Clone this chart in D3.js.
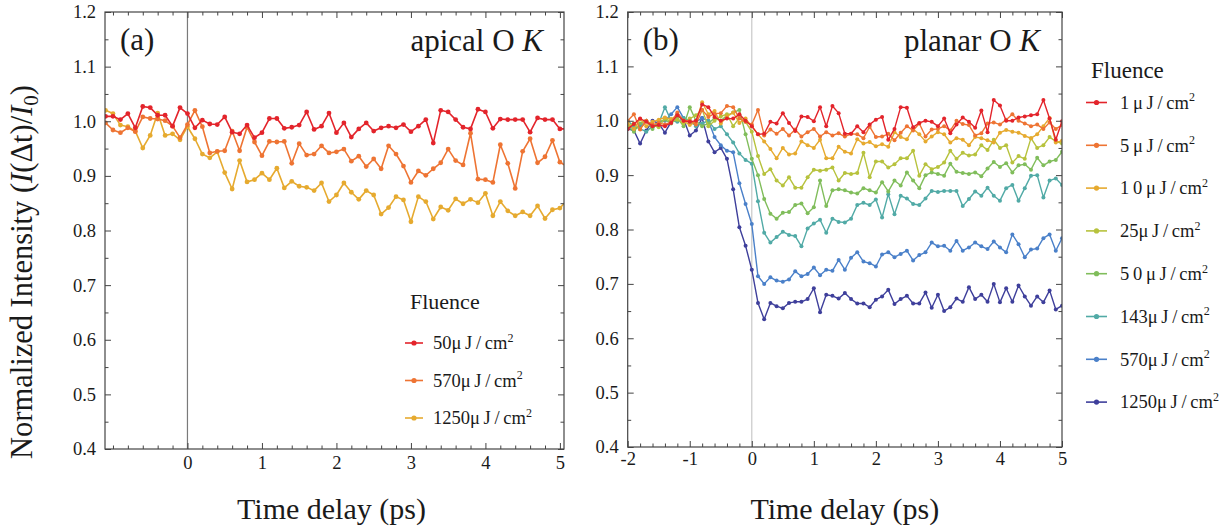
<!DOCTYPE html>
<html>
<head>
<meta charset="utf-8">
<script src="https://cdn.jsdelivr.net/npm/d3@7"></script>
<style>
    body { margin: 0; background: #fff; }
    text { font-family: "Liberation Serif", "Times New Roman", serif; fill: #1a1a1a; }
</style>
</head>
<body>
<svg id="chart" width="1222" height="529"></svg>
<script>
// ---- data ----

// time axis of panel (a), ps (one sample every 0.1 ps)
var timesA = [-1.1, -1.0, -0.9, -0.8, -0.7, -0.6, -0.5, -0.4, -0.3, -0.2, -0.1, 0.0,
    0.1, 0.2, 0.3, 0.4, 0.5, 0.6, 0.7, 0.8, 0.9, 1.0, 1.1, 1.2, 1.3, 1.4, 1.5, 1.6, 1.7, 1.8, 1.9, 2.0,
    2.1, 2.2, 2.3, 2.4, 2.5, 2.6, 2.7, 2.8, 2.9, 3.0, 3.1, 3.2, 3.3, 3.4, 3.5, 3.6, 3.7, 3.8, 3.9, 4.0,
    4.1, 4.2, 4.3, 4.4, 4.5, 4.6, 4.7, 4.8, 4.9, 5.0, 5.1];

// time axis of panel (b), ps
var timesB = [-2.0, -1.9, -1.8, -1.7, -1.6, -1.5, -1.4, -1.3, -1.2, -1.1, -1.0, -0.9, -0.8, -0.7, -0.6,
    -0.5, -0.4, -0.3, -0.2, -0.1, 0.0,
    0.1, 0.2, 0.3, 0.4, 0.5, 0.6, 0.7, 0.8, 0.9, 1.0, 1.1, 1.2, 1.3, 1.4, 1.5, 1.6, 1.7, 1.8, 1.9, 2.0,
    2.1, 2.2, 2.3, 2.4, 2.5, 2.6, 2.7, 2.8, 2.9, 3.0, 3.1, 3.2, 3.3, 3.4, 3.5, 3.6, 3.7, 3.8, 3.9, 4.0,
    4.1, 4.2, 4.3, 4.4, 4.5, 4.6, 4.7, 4.8, 4.9, 5.0];

// panel (a): apical O K
var apical50 = [1.009, 1.009, 1.003, 1.014, 0.988, 1.027, 1.025, 1.011, 1.011, 0.991, 1.025, 1.014,
    0.988, 1.002, 0.995, 0.994, 1.008, 0.980, 0.977, 0.993, 0.970, 0.979, 1.005, 1.005, 0.987, 0.989,
    0.993, 1.017, 0.985, 0.991, 1.015, 0.979, 0.997, 0.971, 0.986, 0.997, 0.982, 0.988, 0.991, 0.988,
    0.994, 0.981, 0.991, 1.003, 0.960, 1.020, 1.017, 1.003, 0.989, 0.986, 1.022, 1.017, 0.987, 1.004,
    1.003, 1.003, 1.003, 0.980, 1.006, 1.003, 1.003, 0.986, 0.986];
var apical570 = [0.997, 0.984, 0.979, 0.988, 0.981, 1.008, 1.005, 1.004, 1.001, 0.991, 0.970, 0.994,
    1.020, 0.990, 0.942, 0.945, 0.946, 0.982, 0.946, 0.989, 0.962, 0.937, 0.963, 0.962, 0.963, 0.923,
    0.959, 0.938, 0.940, 0.955, 0.942, 0.944, 0.949, 0.927, 0.936, 0.917, 0.931, 0.913, 0.955, 0.940,
    0.918, 0.888, 0.909, 0.901, 0.913, 0.924, 0.949, 0.928, 0.920, 0.978, 0.894, 0.893, 0.888, 0.957,
    0.923, 0.877, 0.945, 0.968, 0.924, 0.935, 0.965, 0.925, 0.917];
var apical1250 = [1.020, 1.014, 0.993, 0.990, 0.982, 0.951, 0.974, 1.015, 0.974, 0.977, 0.966, 0.990,
    0.968, 0.940, 0.933, 0.944, 0.906, 0.876, 0.928, 0.889, 0.893, 0.905, 0.893, 0.914, 0.878, 0.890,
    0.881, 0.879, 0.873, 0.887, 0.853, 0.865, 0.887, 0.870, 0.857, 0.873, 0.865, 0.830, 0.842, 0.862,
    0.856, 0.816, 0.862, 0.853, 0.821, 0.843, 0.837, 0.858, 0.849, 0.857, 0.851, 0.868, 0.827, 0.853,
    0.836, 0.827, 0.834, 0.827, 0.845, 0.822, 0.838, 0.841, 0.856];

// panel (b): planar O K
var planar1 = [0.985, 0.994, 1.004, 0.998, 0.990, 0.992, 0.990, 0.996, 1.010, 1.000, 0.998, 1.000,
    1.030, 1.025, 1.007, 1.000, 1.004, 1.004, 1.012, 1.000, 0.990, 0.975, 0.976, 0.998, 0.995, 1.014,
    0.996, 0.981, 1.008, 1.007, 0.999, 1.025, 0.990, 1.027, 1.014, 0.976, 0.976, 0.990, 0.979, 0.993,
    1.002, 1.007, 0.965, 0.985, 1.025, 1.024, 0.988, 0.996, 1.000, 0.998, 0.990, 1.004, 0.977, 0.993,
    1.006, 0.998, 0.987, 1.019, 0.979, 1.038, 1.028, 1.000, 1.000, 1.006, 1.008, 1.010, 1.012, 1.038,
    1.004, 0.965, 0.999];
var planar5 = [1.000, 1.012, 0.984, 1.000, 0.993, 0.996, 0.993, 0.998, 1.015, 1.000, 1.000, 0.993,
    1.020, 1.007, 1.013, 1.014, 1.027, 1.025, 1.004, 0.998, 0.993, 1.020, 0.973, 0.984, 0.976, 0.985,
    0.973, 0.984, 0.971, 0.979, 0.985, 0.971, 0.979, 0.973, 0.977, 0.971, 0.976, 0.975, 0.968, 0.989,
    0.970, 0.971, 0.976, 0.964, 0.978, 0.990, 0.982, 0.995, 0.971, 0.984, 0.985, 0.990, 0.982, 1.000,
    0.994, 0.992, 0.973, 0.977, 0.995, 0.997, 0.993, 1.002, 1.012, 1.000, 0.995, 0.990, 0.993, 0.985,
    0.997, 0.985, 0.992];
var planar10 = [0.995, 0.985, 1.003, 0.990, 0.998, 1.002, 1.006, 1.003, 1.010, 1.000, 0.992, 0.998,
    1.034, 1.012, 1.018, 0.995, 1.008, 1.015, 0.996, 1.004, 0.990, 0.975, 0.962, 0.948, 0.931, 0.950,
    0.938, 0.940, 0.962, 0.955, 0.950, 0.965, 0.931, 0.931, 0.952, 0.943, 0.940, 0.966, 0.958, 0.961,
    0.953, 0.957, 0.952, 0.979, 0.970, 0.966, 0.985, 0.975, 0.962, 0.971, 0.979, 0.975, 0.960, 0.968,
    0.965, 0.955, 0.970, 0.968, 0.964, 0.960, 0.978, 0.983, 0.980, 0.978, 0.972, 0.968, 0.975, 0.990,
    1.005, 0.960, 0.963];
var planar25 = [0.990, 0.995, 0.985, 1.000, 0.992, 0.988, 1.005, 0.998, 1.002, 0.995, 1.004, 1.010,
    1.020, 0.990, 1.000, 1.008, 1.012, 0.990, 1.005, 0.998, 0.980, 0.935, 0.902, 0.911, 0.890, 0.881,
    0.896, 0.877, 0.877, 0.896, 0.910, 0.908, 0.910, 0.914, 0.890, 0.904, 0.902, 0.904, 0.941, 0.896,
    0.925, 0.925, 0.914, 0.920, 0.931, 0.931, 0.945, 0.899, 0.920, 0.911, 0.915, 0.923, 0.945, 0.930,
    0.941, 0.936, 0.938, 0.955, 0.946, 0.965, 0.950, 0.955, 0.923, 0.935, 0.930, 0.968, 0.950, 0.955,
    0.970, 0.962, 0.958];
var planar50 = [0.990, 0.980, 0.995, 1.000, 0.985, 0.998, 1.002, 0.995, 1.005, 0.990, 1.025, 1.000,
    0.990, 0.995, 1.005, 1.000, 1.010, 1.015, 1.020, 0.975, 0.930, 0.900, 0.856, 0.829, 0.820, 0.831,
    0.832, 0.845, 0.848, 0.830, 0.841, 0.890, 0.843, 0.872, 0.874, 0.872, 0.868, 0.866, 0.876, 0.872,
    0.868, 0.887, 0.870, 0.890, 0.881, 0.905, 0.890, 0.876, 0.900, 0.905, 0.902, 0.899, 0.921, 0.906,
    0.904, 0.902, 0.905, 0.898, 0.912, 0.924, 0.915, 0.922, 0.905, 0.918, 0.920, 0.910, 0.932, 0.918,
    0.925, 0.928, 0.943];
var planar143 = [1.000, 0.990, 0.985, 0.980, 0.990, 0.995, 1.025, 1.000, 0.998, 1.005, 1.000, 0.990,
    0.995, 1.000, 0.985, 0.990, 0.975, 0.960, 0.940, 0.928, 0.921, 0.852, 0.794, 0.776, 0.786, 0.796,
    0.790, 0.788, 0.769, 0.802, 0.811, 0.818, 0.794, 0.820, 0.814, 0.813, 0.820, 0.845, 0.849, 0.845,
    0.855, 0.822, 0.865, 0.828, 0.862, 0.857, 0.847, 0.845, 0.857, 0.871, 0.869, 0.871, 0.871, 0.871,
    0.843, 0.856, 0.870, 0.862, 0.877, 0.862, 0.853, 0.876, 0.882, 0.853, 0.876, 0.899, 0.900, 0.859,
    0.890, 0.894, 0.882];
var planar570 = [0.990, 0.985, 0.990, 1.000, 0.988, 0.998, 1.000, 1.012, 1.025, 1.005, 0.995, 0.998,
    1.005, 1.000, 0.970, 0.955, 0.945, 0.942, 0.885, 0.847, 0.810, 0.714, 0.700, 0.712, 0.706, 0.704,
    0.708, 0.723, 0.714, 0.718, 0.730, 0.716, 0.726, 0.724, 0.744, 0.726, 0.748, 0.758, 0.741, 0.738,
    0.732, 0.754, 0.758, 0.749, 0.755, 0.761, 0.743, 0.753, 0.758, 0.776, 0.769, 0.770, 0.761, 0.779,
    0.761, 0.767, 0.776, 0.769, 0.764, 0.778, 0.767, 0.758, 0.791, 0.773, 0.749, 0.763, 0.765, 0.784,
    0.791, 0.761, 0.784];
var planar1250 = [0.985, 0.982, 0.958, 0.982, 1.000, 0.995, 0.978, 0.998, 1.012, 1.003, 0.973, 0.982,
    1.005, 0.962, 0.942, 0.950, 0.930, 0.874, 0.804, 0.770, 0.726, 0.665, 0.635, 0.665, 0.659, 0.655,
    0.665, 0.667, 0.667, 0.672, 0.692, 0.648, 0.680, 0.678, 0.673, 0.683, 0.672, 0.664, 0.664, 0.657,
    0.671, 0.677, 0.689, 0.663, 0.672, 0.678, 0.664, 0.664, 0.684, 0.656, 0.680, 0.650, 0.657, 0.673,
    0.667, 0.694, 0.672, 0.680, 0.667, 0.700, 0.666, 0.692, 0.667, 0.697, 0.677, 0.660, 0.677, 0.666,
    0.688, 0.653, 0.660];

// legend labels (fluence numbers) and tick labels
var fluenceA = ["50", "570", "1250"];
var fluenceB = ["1\u2009", "5\u2009", "1\u20090\u2009", "25", "5\u20090\u2009", "143", "570", "1250"];
var yTicks = [0.4, 0.5, 0.6, 0.7, 0.8, 0.9, 1.0, 1.1, 1.2];
var xTicksA = [0, 1, 2, 3, 4, 5];
var xTicksB = [-2, -1, 0, 1, 2, 3, 4, 5];

// colours of the rainbow scheme
var colRed = "#e3242b", colOrange = "#ee7433", colYellow = "#e6aa2f", colLime = "#b7c23d",
    colGreen = "#80bd5b", colTeal = "#51aaa6", colBlue = "#4a80c9", colNavy = "#3e3f9b";

var svg = d3.select("#chart");
var defs = svg.append("defs");

// draws one framed panel with its series, ticks and legend
function drawPanel(cfg) {
    var x = d3.scaleLinear().domain(cfg.xDomain).range([cfg.left, cfg.right]);
    var y = d3.scaleLinear().domain([0.4, 1.2]).range([cfg.bottom, cfg.top]);

    defs.append("clipPath").attr("id", cfg.id + "-clip")
        .append("rect")
        .attr("x", cfg.left).attr("y", cfg.top)
        .attr("width", cfg.right - cfg.left).attr("height", cfg.bottom - cfg.top);

    var g = svg.append("g");

    // vertical line at zero delay
    g.append("line")
        .attr("x1", x(0)).attr("x2", x(0))
        .attr("y1", cfg.top).attr("y2", cfg.bottom)
        .attr("stroke", cfg.zeroColor).attr("stroke-width", 1.2);

    // series, last one drawn on top
    var plot = g.append("g").attr("clip-path", "url(#" + cfg.id + "-clip)");
    var line = d3.line()
        .x(function(d) { return x(d[0]); })
        .y(function(d) { return y(d[1]); });

    cfg.series.slice().reverse().forEach(function(s) {
        var pts = cfg.times.map(function(t, i) { return [t, s.values[i]]; });
        plot.append("path")
            .datum(pts)
            .attr("d", line)
            .attr("fill", "none")
            .attr("stroke", s.color)
            .attr("stroke-width", cfg.lineWidth)
            .attr("stroke-linejoin", "round");
        plot.selectAll(null)
            .data(pts)
            .enter()
            .append("circle")
            .attr("cx", function(d) { return x(d[0]); })
            .attr("cy", function(d) { return y(d[1]); })
            .attr("r", cfg.dot)
            .attr("fill", s.color);
    });

    // minor tick positions
    var minorX = d3.range(-10, 26).map(function(k) { return k * 0.2; })
        .filter(function(v) {
            return v >= cfg.xDomain[0] && v <= cfg.xDomain[1] && cfg.xTicks.indexOf(Math.round(v * 10) / 10) < 0;
        });
    var minorY = d3.range(9, 24, 2).map(function(k) { return k * 0.05; });

    function axis(gen, pos, vals, size, labels, pad) {
        var a = gen.tickValues(vals).tickSize(-size).tickPadding(pad || 0);
        if (!labels) a.tickFormat("");
        var ga = g.append("g").attr("transform", pos).call(a);
        ga.attr("font-size", null).attr("font-family", null);
        ga.select(".domain").remove();
        ga.selectAll("line").attr("stroke", "#444").attr("stroke-width", 1);
        ga.selectAll("text").style("font-size", "18.5px").attr("fill", "#1a1a1a");
        return ga;
    }

    var bx = "translate(0," + cfg.bottom + ")", tx = "translate(0," + cfg.top + ")";
    var lx = "translate(" + cfg.left + ",0)", rx = "translate(" + cfg.right + ",0)";

    // plain hyphen for negative labels, as in the figure
    axis(d3.axisBottom(x).tickFormat(function(d) { return String(d); }), bx, cfg.xTicks, 6, true, cfg.xPad);
    axis(d3.axisBottom(x), bx, minorX, 3.5, false);
    axis(d3.axisTop(x), tx, cfg.xTicks, 6, false);
    axis(d3.axisTop(x), tx, minorX, 3.5, false);
    axis(d3.axisLeft(y).tickFormat(d3.format(".1f")), lx, yTicks, 6, true, 9);
    axis(d3.axisLeft(y), lx, minorY, 3.5, false);
    axis(d3.axisRight(y), rx, yTicks, 6, false);
    axis(d3.axisRight(y), rx, minorY, 3.5, false);

    // frame
    g.append("rect")
        .attr("x", cfg.left).attr("y", cfg.top)
        .attr("width", cfg.right - cfg.left).attr("height", cfg.bottom - cfg.top)
        .attr("fill", "none").attr("stroke", "#444").attr("stroke-width", 1.2);

    // panel letter and title
    g.append("text").attr("x", cfg.left + 15).attr("y", 50)
        .style("font-size", "31px").text(cfg.letter);
    var title = g.append("text").attr("x", cfg.titleX).attr("y", 51)
        .attr("text-anchor", "end").style("font-size", "31px");
    title.append("tspan").text(cfg.title + " O ");
    title.append("tspan").style("font-style", "italic").text("K");

    // x axis title
    g.append("text")
        .attr("x", (cfg.left + cfg.right) / 2 - cfg.labelShift).attr("y", 519)
        .attr("text-anchor", "middle").style("font-size", "30px")
        .text("Time delay (ps)");

    // legend
    var lg = cfg.legend;
    g.append("text").attr("x", lg.titleX).attr("y", lg.titleY)
        .style("font-size", lg.titleSize + "px").text("Fluence");
    cfg.series.forEach(function(s, i) {
        var yy = lg.y0 + i * lg.step;
        g.append("line")
            .attr("x1", lg.x1).attr("x2", lg.x2).attr("y1", yy).attr("y2", yy)
            .attr("stroke", s.color).attr("stroke-width", 1.6);
        g.append("circle").attr("cx", (lg.x1 + lg.x2) / 2).attr("cy", yy)
            .attr("r", 2.6).attr("fill", s.color);
        var t = g.append("text").attr("x", lg.textX).attr("y", yy + 6.3)
            .style("font-size", "18.5px");
        t.append("tspan").text(s.name + "\u03bc\u2009J\u2009/\u2009cm");
        t.append("tspan").attr("dy", -7.5).style("font-size", "12px").text("2");
    });
}

drawPanel({
    id: "a",
    left: 105, right: 564, top: 12, bottom: 449,
    xDomain: [-1.107, 5.055],
    xTicks: xTicksA, xPad: 7,
    times: timesA,
    zeroColor: "#7a7a7a",
    lineWidth: 1.6, dot: 2.4,
    letter: "(a)", title: "apical", titleX: 543,
    labelShift: 3,
    series: [
        {name: fluenceA[0], color: colRed, values: apical50},
        {name: fluenceA[1], color: colOrange, values: apical570},
        {name: fluenceA[2], color: colYellow, values: apical1250}
    ],
    legend: {titleX: 410, titleY: 309, titleSize: 22, x1: 405, x2: 423, textX: 433, y0: 343, step: 37.5}
});

drawPanel({
    id: "b",
    left: 627.7, right: 1062, top: 12, bottom: 447,
    xDomain: [-2, 5],
    xTicks: xTicksB, xPad: 5,
    times: timesB,
    zeroColor: "#c8c8c8",
    lineWidth: 1.4, dot: 2.0,
    letter: "(b)", title: "planar", titleX: 1040,
    labelShift: 0,
    series: [
        {name: fluenceB[0], color: colRed, values: planar1},
        {name: fluenceB[1], color: colOrange, values: planar5},
        {name: fluenceB[2], color: colYellow, values: planar10},
        {name: fluenceB[3], color: colLime, values: planar25},
        {name: fluenceB[4], color: colGreen, values: planar50},
        {name: fluenceB[5], color: colTeal, values: planar143},
        {name: fluenceB[6], color: colBlue, values: planar570},
        {name: fluenceB[7], color: colNavy, values: planar1250}
    ],
    legend: {titleX: 1091, titleY: 78, titleSize: 23, x1: 1086, x2: 1107, textX: 1120, y0: 102.5, step: 42.8}
});

// shared y axis title
var yl = svg.append("text")
    .attr("transform", "translate(32,272) rotate(-90)")
    .attr("text-anchor", "middle")
    .style("font-size", "30.5px");
yl.append("tspan").text("Normalized Intensity (");
yl.append("tspan").style("font-style", "italic").text("I");
yl.append("tspan").text("(\u0394t)/");
yl.append("tspan").style("font-style", "italic").text("I");
yl.append("tspan").attr("dy", 6).style("font-size", "21px").text("0");
yl.append("tspan").attr("dy", -6).text(")");
</script>
</body>
</html>
